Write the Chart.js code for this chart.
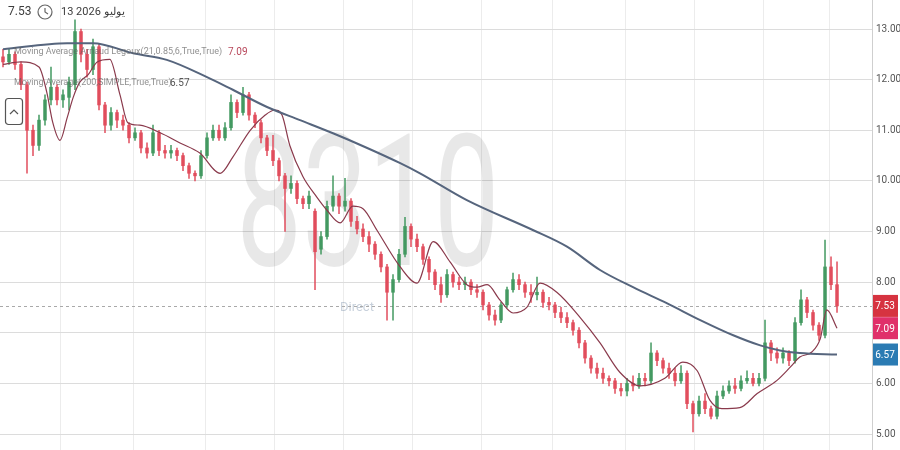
<!DOCTYPE html>
<html>
<head>
<meta charset="utf-8">
<script src="https://cdn.jsdelivr.net/npm/chart.js@4.4.0/dist/chart.umd.min.js"></script>
<style>
    html, body { margin: 0; padding: 0; background: #fff; }
    #wrap { width: 900px; height: 450px; position: relative; }
</style>
</head>
<body>
<div id="wrap"><canvas id="priceChart"></canvas></div>
<script>
// daily candles (left to right)
const opens = [
    12.45, 12.35, 12.5, 12.3, 11.9, 11.0, 10.7, 11.2, 11.6, 11.85,
    11.6, 11.65, 11.9, 12.95, 12.5, 12.2, 12.65, 11.5, 11.1, 11.35,
    11.2, 11.1, 10.85, 10.95, 10.65, 10.55, 10.95, 10.6, 10.55, 10.6,
    10.5, 10.3, 10.15, 10.1, 10.5, 10.85, 11.0, 10.85, 11.05, 11.55,
    11.35, 11.7, 11.3, 11.15, 10.85, 10.6, 10.4, 10.1, 9.85, 9.95,
    9.65, 9.55, 9.4, 8.65, 8.9, 9.5, 9.7, 9.5, 9.6, 9.2,
    9.05, 8.9, 8.75, 8.55, 8.3, 7.8, 8.05, 8.55, 9.1, 8.85,
    8.7, 8.45, 8.2, 7.95, 7.75, 8.15, 8.0, 7.95, 8.0, 7.85,
    7.8, 7.55, 7.35, 7.25, 7.55, 7.85, 8.05, 7.95, 7.8, 7.75,
    7.8, 7.6, 7.55, 7.4, 7.3, 7.2, 7.05, 6.8, 6.5, 6.3,
    6.2, 6.1, 6.05, 5.9, 5.85, 6.0, 5.95, 6.1, 6.05, 6.6,
    6.45, 6.3, 6.2, 6.05, 6.2, 5.6, 5.4, 5.65, 5.5, 5.35,
    5.75, 5.85, 5.95, 5.9, 6.05, 6.1, 6.0, 6.1, 6.8, 6.6,
    6.5, 6.6, 6.45, 7.2, 7.65, 7.4, 7.15, 6.95, 8.3, 7.95
];
const closes = [
    12.35, 12.5, 12.3, 11.9, 11.0, 10.7, 11.2, 11.6, 11.85, 11.6,
    11.7, 11.95, 12.95, 12.5, 12.2, 12.65, 11.5, 11.1, 11.35, 11.2,
    11.1, 10.85, 10.95, 10.65, 10.55, 10.95, 10.6, 10.55, 10.6, 10.5,
    10.3, 10.15, 10.1, 10.5, 10.85, 11.0, 10.85, 11.05, 11.55, 11.35,
    11.7, 11.3, 11.15, 10.85, 10.6, 10.4, 10.1, 9.85, 9.95, 9.65,
    9.55, 9.7, 8.6, 8.9, 9.5, 9.7, 9.5, 9.6, 9.2, 9.05,
    8.9, 8.75, 8.55, 8.3, 7.8, 8.05, 8.55, 9.1, 8.85, 8.7,
    8.45, 8.2, 7.95, 7.75, 8.15, 8.0, 7.95, 8.0, 7.85, 7.8,
    7.55, 7.35, 7.25, 7.55, 7.85, 8.05, 7.95, 7.8, 7.75, 7.8,
    7.6, 7.55, 7.4, 7.3, 7.2, 7.05, 6.8, 6.5, 6.3, 6.2,
    6.1, 6.05, 5.9, 5.85, 6.0, 5.95, 6.1, 6.05, 6.6, 6.45,
    6.3, 6.2, 6.05, 6.2, 5.6, 5.4, 5.65, 5.5, 5.35, 5.75,
    5.85, 5.95, 5.9, 6.05, 6.1, 6.0, 6.1, 6.8, 6.6, 6.5,
    6.6, 6.45, 7.2, 7.65, 7.4, 7.15, 6.95, 8.3, 7.95, 7.53
];
const highs = [
    12.6, 12.6, 12.55, 12.35, 11.95, 11.1, 11.3, 11.7, 12.25, 11.9,
    11.8, 12.05, 13.18, 13.0, 12.6, 12.8, 12.7, 11.55, 11.45, 11.4,
    11.3, 11.15, 11.05, 11.0, 10.75, 11.1, 11.0, 10.7, 10.7, 10.65,
    10.55, 10.35, 10.2, 10.6, 10.95, 11.1, 11.1, 11.15, 11.7, 11.6,
    11.85, 11.75, 11.35, 11.2, 10.9, 10.9, 10.45, 10.15, 10.1, 10.0,
    9.7, 9.8, 9.45, 9.0, 9.6, 10.1, 9.75, 10.05, 9.65, 9.3,
    9.15, 9.0, 8.8, 8.6, 8.35, 8.15, 8.65, 9.28, 9.15, 8.95,
    8.75, 8.5, 8.25, 8.1, 8.25, 8.2, 8.1, 8.1, 8.05, 7.95,
    7.85, 7.6, 7.45, 7.6, 7.9, 8.18, 8.15, 8.0, 7.95, 8.1,
    7.85, 7.7, 7.6, 7.5, 7.4, 7.25, 7.1, 6.85, 6.55, 6.4,
    6.3, 6.15, 6.1, 6.0, 6.1, 6.15, 6.2, 6.2, 6.8, 6.65,
    6.5, 6.4, 6.3, 6.35, 6.25, 5.65, 5.75, 5.8, 5.55, 5.85,
    5.95, 6.05, 6.1, 6.15, 6.25, 6.2, 6.2, 7.25, 6.85, 6.7,
    6.7, 6.65, 7.3, 7.85, 7.7, 7.45, 7.2, 8.83, 8.5, 8.4
];
const lows = [
    12.25, 12.3, 12.2, 11.8, 10.15, 10.5, 10.6, 11.1, 11.5, 11.5,
    11.45, 11.4, 11.8, 12.35, 12.05, 12.1, 11.4, 10.95, 11.0, 11.05,
    11.0, 10.75, 10.8, 10.55, 10.45, 10.5, 10.5, 10.45, 10.45, 10.4,
    10.2, 10.05, 10.0, 10.05, 10.45, 10.8, 10.8, 10.8, 11.0, 11.25,
    11.3, 11.2, 11.05, 10.75, 10.5, 10.3, 10.0, 9.0, 9.75, 9.55,
    9.45, 9.45, 7.85, 8.55, 8.85, 9.4, 9.35, 9.4, 9.1, 8.95,
    8.8, 8.6, 8.45, 8.2, 7.25, 7.25, 8.0, 8.5, 8.7, 8.6,
    8.35, 8.05, 7.85, 7.6, 7.7, 7.9, 7.85, 7.85, 7.75, 7.7,
    7.45, 7.25, 7.15, 7.2, 7.5, 7.8, 7.85, 7.7, 7.6, 7.65,
    7.5, 7.45, 7.3, 7.2, 7.1, 6.95, 6.7, 6.4, 6.2, 6.1,
    6.0, 5.95, 5.8, 5.75, 5.75, 5.85, 5.9, 5.95, 6.0, 6.35,
    6.2, 6.1, 5.95, 6.0, 5.5, 5.04, 5.35, 5.4, 5.3, 5.3,
    5.7, 5.8, 5.8, 5.85, 6.0, 5.95, 5.95, 6.05, 6.45, 6.4,
    6.4, 6.35, 6.4, 7.15, 7.3, 7.05, 6.85, 6.9, 7.85, 7.4
];

// Arnaud Legoux MA (21) - candle index / value
const almaIdx = [0, 3, 6, 7.3, 8.3, 9.5, 10.7, 11.7, 12.8, 14.2, 15.7, 17.8, 19.5, 20.8, 22.8, 26.2, 29.5, 32.8, 36.2, 38.3,
    41.2, 43.7, 45.3, 46.5, 47.8, 50, 52.3, 54, 56.2, 58.3, 60, 62.3, 66.2, 69, 71.7, 74.5, 77.3, 79, 80.7, 82.8,
    85, 87.3, 89.5, 92.3, 96.2, 99.5, 102.8, 106.2, 110.3, 113.3, 115.7, 117.8, 119.8, 122.8, 125.7, 129, 131.2, 132.8, 134.8, 136.2,
    137.3, 139];
const almaVal = [12.3, 12.35, 12.25, 11.75, 11.15, 10.8, 11.25, 11.65, 11.95, 12.1, 12.35, 12.4, 11.7, 11.15, 11.1, 10.95, 10.75, 10.55, 10.15, 10.47,
    11.0, 11.3, 11.4, 11.3, 10.7, 10.08, 9.68, 9.42, 9.17, 9.5, 9.45, 9.03, 8.3, 7.98, 8.8, 8.4, 7.95, 7.9, 7.95, 7.65,
    7.39, 7.5, 7.98, 7.8, 7.3, 6.8, 6.22, 5.95, 6.1, 6.42, 6.25, 5.67, 5.5, 5.52, 5.8, 6.06, 6.32, 6.52, 6.62, 6.88,
    7.45, 7.09];

// simple MA (200)
const smaIdx = [0, 10.7, 15, 21.7, 27.3, 34, 38.3, 44, 49.5, 55, 60.7, 66.2, 69.5, 77.3, 88.3, 94, 99.5, 105, 110.7, 116.2, 121.7, 126.2, 129.5, 132.8, 139];
const smaVal = [12.6, 12.72, 12.72, 12.52, 12.39, 12.05, 11.8, 11.46, 11.2, 10.94, 10.65, 10.35, 10.15, 9.62, 9.03, 8.7, 8.24, 7.9, 7.58, 7.25, 6.95, 6.75, 6.65, 6.6, 6.57];

// month separators (candle index) and price ticks
const monthIdx = [9.5, 21.67, 33.67, 45.33, 56.67, 68.17, 79.67, 91.5, 103.83, 115.17, 126.67, 137.83];
const yTicks = [5, 6, 7, 8, 9, 10, 11, 12, 13];

const lastPrice = 7.53;
const almaLast = 7.09;
const smaLast = 6.57;

const UP = 'rgba(62,150,92,0.88)';
const DOWN = 'rgba(224,72,88,0.88)';

function candleColor(ctx) {
    const i = ctx.dataIndex;
    return closes[i] >= opens[i] ? UP : DOWN;
}

const wickData = highs.map((h, i) => ({ x: i, y: [lows[i], h] }));
const bodyData = opens.map((o, i) => ({ x: i, y: [o, closes[i]] }));
const almaData = almaIdx.map((x, i) => ({ x: x, y: almaVal[i] }));
const smaData = smaIdx.map((x, i) => ({ x: x, y: smaVal[i] }));

const overlay = {
    id: 'overlay',
    beforeDatasetsDraw(chart) {
        const { ctx, chartArea: a, scales: { y } } = chart;
        ctx.save();
        // watermark
        ctx.save();
        ctx.fillStyle = 'rgba(0,0,0,0.09)';
        ctx.font = '183px Roboto';
        ctx.textAlign = 'center';
        ctx.textBaseline = 'alphabetic';
        ctx.translate(368, 265);
        ctx.scale(0.64, 1);
        ctx.fillText('8310', 0, 0);
        ctx.restore();

        ctx.fillStyle = 'rgba(130,150,175,0.45)';
        ctx.font = '13px Roboto';
        ctx.textBaseline = 'middle';
        ctx.fillText('Direct', 340, 308);

        // last price line
        const py = Math.round(y.getPixelForValue(lastPrice)) + 0.5;
        ctx.strokeStyle = '#a9a9a9';
        ctx.lineWidth = 1;
        ctx.setLineDash([3, 3]);
        ctx.beginPath();
        ctx.moveTo(a.left, py);
        ctx.lineTo(a.right, py);
        ctx.stroke();
        ctx.restore();
    },
    afterDraw(chart) {
        const { ctx, chartArea: a, scales: { y } } = chart;
        ctx.save();
        ctx.textBaseline = 'middle';

        // header
        ctx.fillStyle = '#3d3d3d';
        ctx.font = '12px Roboto';
        ctx.fillText('7.53', 8, 12);
        ctx.strokeStyle = '#666';
        ctx.lineWidth = 1.2;
        ctx.beginPath();
        ctx.arc(45, 12, 7, 0, Math.PI * 2);
        ctx.moveTo(45, 8); ctx.lineTo(45, 12); ctx.lineTo(48, 14);
        ctx.stroke();
        ctx.font = '11px Roboto';
        ctx.fillText('13 2026 يوليو', 61, 12);

        // study legend
        ctx.font = '9px Roboto';
        const l1 = 'Moving Average Arnaud Legoux(21,0.85,6,True,True)';
        const l2 = 'Moving Average(200,SIMPLE,True,True)';
        ctx.fillStyle = 'rgba(95,95,95,0.7)';
        ctx.fillText(l1, 14, 52);
        ctx.fillText(l2, 14, 83);
        ctx.font = '10px Roboto';
        ctx.fillStyle = '#b8475b';
        ctx.fillText(almaLast.toFixed(2), 228, 52);
        ctx.fillStyle = '#555';
        ctx.fillText(smaLast.toFixed(2), 170, 83);

        // collapse button
        ctx.strokeStyle = '#555';
        ctx.lineWidth = 1.2;
        ctx.beginPath();
        ctx.roundRect(5.5, 98.5, 17, 26, 3);
        ctx.moveTo(10, 114); ctx.lineTo(14, 110); ctx.lineTo(18, 114);
        ctx.stroke();

        // value boxes on the price scale
        const tags = [
            [lastPrice, '#d63340'],
            [almaLast, '#e0306a'],
            [smaLast, '#2b7bb3']
        ];
        const h = 22;
        let prevBottom = -Infinity;
        ctx.font = '10px Roboto';
        ctx.textAlign = 'center';
        tags.forEach(([v, c]) => {
            let top = y.getPixelForValue(v) - h / 2;
            if (top < prevBottom) top = prevBottom;
            ctx.fillStyle = c;
            ctx.fillRect(a.right + 1, top, chart.width - a.right - 3, h);
            ctx.fillStyle = '#fff';
            ctx.fillText(v.toFixed(2), (a.right + chart.width - 2) / 2, top + h / 2 + 1);
            prevBottom = top + h;
        });
        ctx.restore();
    }
};

new Chart(document.getElementById('priceChart'), {
    type: 'bar',
    data: {
        datasets: [
            {
                type: 'line',
                data: smaData,
                borderColor: '#56657d',
                borderWidth: 2,
                pointRadius: 0,
                cubicInterpolationMode: 'monotone',
                order: 0
            },
            {
                type: 'line',
                data: almaData,
                borderColor: '#8a3a4c',
                borderWidth: 1.2,
                pointRadius: 0,
                cubicInterpolationMode: 'monotone',
                order: 0
            },
            {
                data: bodyData,
                backgroundColor: candleColor,
                barThickness: 3,
                minBarLength: 1,
                grouped: false,
                order: 1
            },
            {
                data: wickData,
                backgroundColor: candleColor,
                barThickness: 1,
                grouped: false,
                order: 2
            }
        ]
    },
    options: {
        responsive: true,
        maintainAspectRatio: false,
        animation: false,
        layout: { padding: 0 },
        plugins: {
            legend: { display: false },
            tooltip: { enabled: false }
        },
        scales: {
            x: {
                type: 'linear',
                min: -0.5,
                max: 144.83,
                offset: false,
                grid: { color: '#ececec', offset: false, drawTicks: false },
                border: { display: false },
                ticks: { display: false },
                afterBuildTicks: s => { s.ticks = monthIdx.map(v => ({ value: v })); },
                afterFit: s => { s.height = 0; s.paddingLeft = 0; s.paddingRight = 0; }
            },
            y: {
                position: 'right',
                min: 4.684,
                max: 13.573,
                grid: { color: '#dcdcdc', drawTicks: false },
                border: { display: true, color: '#cfcfcf' },
                ticks: {
                    padding: 4,
                    color: '#555',
                    font: { family: 'Roboto', size: 10 },
                    callback: v => v.toFixed(2)
                },
                afterBuildTicks: s => { s.ticks = yTicks.map(v => ({ value: v })); },
                afterFit: s => { s.width = 28; s.paddingTop = 0; s.paddingBottom = 0; }
            }
        }
    },
    plugins: [overlay]
});
</script>
</body>
</html>
